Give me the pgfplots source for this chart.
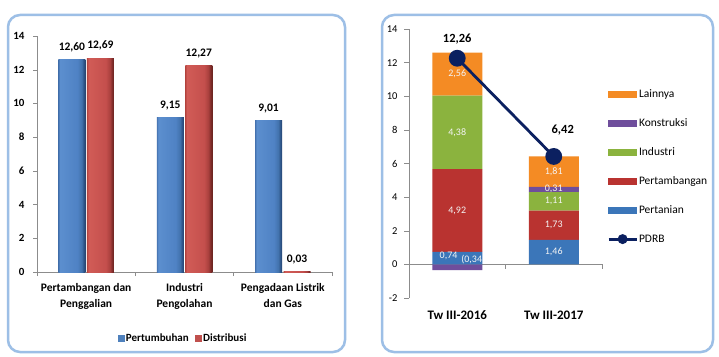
\documentclass[border=0pt]{standalone}
\usepackage{pgfplots}
\pgfplotsset{compat=1.18}
\usepackage{fontspec}
\setmainfont{Carlito}

\definecolor{frameblue}{HTML}{9DBFE6}
\definecolor{axisgray}{HTML}{8C8C8C}
\definecolor{cBlue}{HTML}{3B76B9}
\definecolor{cRed}{HTML}{B93330}
\definecolor{cGreen}{HTML}{8BB33E}
\definecolor{cPurple}{HTML}{6F4E9C}
\definecolor{cOrange}{HTML}{F48B24}
\definecolor{cNavy}{HTML}{0B2060}
\definecolor{segtext}{HTML}{F4F4F4}
\definecolor{legBlue}{HTML}{4F81BD}
\definecolor{legRed}{HTML}{C0504D}

\tikzset{seglabel/.style={font=\fontsize{10}{11}\selectfont, text=segtext}}

% bevelled look for the left-hand bars
\pgfdeclarehorizontalshading{bluebar}{100bp}{%
  rgb(0bp)=(0.27,0.45,0.69); rgb(25bp)=(0.27,0.45,0.69);
  rgb(28bp)=(0.36,0.56,0.81); rgb(60bp)=(0.31,0.51,0.77);
  rgb(68bp)=(0.26,0.45,0.68); rgb(72bp)=(0.18,0.33,0.53);
  rgb(75bp)=(0.15,0.27,0.44); rgb(100bp)=(0.15,0.27,0.44)}
\pgfdeclarehorizontalshading{redbar}{100bp}{%
  rgb(0bp)=(0.71,0.27,0.25); rgb(25bp)=(0.71,0.27,0.25);
  rgb(28bp)=(0.82,0.36,0.34); rgb(60bp)=(0.77,0.31,0.30);
  rgb(68bp)=(0.66,0.25,0.24); rgb(72bp)=(0.49,0.17,0.16);
  rgb(75bp)=(0.42,0.14,0.13); rgb(100bp)=(0.42,0.14,0.13)}

\pgfplotsset{
  growbar/.style={draw=none, shading=bluebar, bar shift=-14.25pt, forget plot},
  sharebar/.style={draw=none, shading=redbar, bar shift=14.25pt, forget plot},
}

\begin{document}
\begin{tikzpicture}[x=1pt,y=1pt]
\useasboundingbox (0,0) rectangle (719,356);
\fill[white] (0,0) rectangle (719,356);

% panel frames
\draw[frameblue, line width=2.5pt, rounded corners=12pt] (8,4) rectangle (345,341);
\draw[frameblue, line width=2.5pt, rounded corners=12pt] (382,4) rectangle (713,341);

% ---------------- left: growth and share by sector ----------------
\begin{axis}[
  at={(37pt,84pt)}, anchor=south west,
  scale only axis, width=295pt, height=236pt,
  ybar, bar width=27pt,
  xmin=-0.5, xmax=2.5, ymin=0, ymax=14,
  ytick={0,2,...,14},
  xtick={0,1,2},
  xticklabels={{Pertambangan dan\\Penggalian},{Industri\\Pengolahan},{Pengadaan Listrik\\dan Gas}},
  minor xtick={-0.5,0.5,1.5,2.5},
  major x tick style={draw=none},
  axis lines*=left,
  axis line style={axisgray},
  every tick/.style={axisgray},
  tick align=outside, major tick length=4pt, minor tick length=4pt,
  /pgf/number format/assume math mode=true,
  /pgf/number format/.cd, fixed, fixed zerofill, precision=2, use comma,
  /pgfplots/.cd,
  yticklabel style={font=\bfseries\fontsize{11}{12}\selectfont, xshift=-5pt,
    /pgf/number format/precision=0, /pgf/number format/fixed zerofill=false},
  xticklabel style={font=\bfseries\fontsize{11.5}{15.5}\selectfont, align=center, yshift=-4pt},
  nodes near coords,
  nodes near coords style={font=\bfseries\fontsize{11.5}{12}\selectfont, yshift=4pt},
  legend style={at={(0.495,-0.28)}, anchor=center, draw=none, fill=none,
    font=\bfseries\fontsize{11}{12}\selectfont, legend columns=2,
    /tikz/every even column/.append style={column sep=4pt}},
]
\addlegendimage{legend image code/.code={\fill[legBlue] (0pt,-3pt) rectangle (6pt,3pt);}}
\addlegendentry{Pertumbuhan}
\addlegendimage{legend image code/.code={\fill[legRed] (0pt,-3pt) rectangle (6pt,3pt);}}
\addlegendentry{Distribusi}
% Pertumbuhan (growth)
\addplot[growbar] coordinates {(0,12.60)};
\addplot[growbar] coordinates {(1,9.15)};
\addplot[growbar] coordinates {(2,9.01)};
% Distribusi (share)
\addplot[sharebar] coordinates {(0,12.69)};
\addplot[sharebar] coordinates {(1,12.27)};
\addplot[sharebar] coordinates {(2,0.03)};
\end{axis}

% ---------------- right: contribution to growth ----------------
\begin{axis}[
  at={(409pt,58pt)}, anchor=south west,
  scale only axis, width=193pt, height=269pt,
  ybar stacked, bar width=50pt,
  xmin=-0.5, xmax=1.5, ymin=-2, ymax=14,
  ytick={-2,0,...,14},
  xtick={0,1}, xticklabels={Tw III-2016, Tw III-2017},
  major x tick style={draw=none},
  axis x line*=bottom, axis y line*=left,
  x axis line style={draw=none},
  y axis line style={axisgray},
  every tick/.style={axisgray},
  tick align=outside, major tick length=5pt,
  extra y ticks={0}, extra y tick labels={},
  extra y tick style={grid=major, major grid style={axisgray, thin}},
  /pgf/number format/assume math mode=true,
  yticklabel style={font=\fontsize{10.5}{12}\selectfont, xshift=-3pt},
  xticklabel style={font=\bfseries\fontsize{13}{14}\selectfont, yshift=-4pt},
]
\addplot[fill=cBlue, draw=none] coordinates {(0,0.74) (1,1.46)};
\addplot[fill=cRed, draw=none] coordinates {(0,4.92) (1,1.73)};
\addplot[fill=cGreen, draw=none] coordinates {(0,4.38) (1,1.11)};
\addplot[fill=cPurple, draw=none] coordinates {(0,-0.34) (1,0.31)};
\addplot[fill=cOrange, draw=none] coordinates {(0,2.56) (1,1.81)};
\end{axis}

% segment values, PDRB growth line and legend over the stacked bars
\begin{axis}[
  at={(409pt,58pt)}, anchor=south west,
  scale only axis, width=193pt, height=269pt,
  xmin=-0.5, xmax=1.5, ymin=-2, ymax=14,
  hide axis, clip=false,
  legend style={at={(1.026,0.781)}, anchor=north west, draw=none, fill=none,
    inner sep=0pt, font=\fontsize{11.5}{12}\selectfont, row sep=17pt,
    nodes={inner sep=1pt, text height=8pt, text depth=2pt},
    /tikz/every even column/.append style={column sep=1pt}},
  legend cell align=left,
]
\draw[axisgray] (axis cs:0.5,0) -- (axis cs:0.5,-0.25);
\draw[axisgray] (axis cs:1.5,0) -- (axis cs:1.5,-0.25);
\node[seglabel] at (axis cs:-0.09,0.50) {0,74};
\node[seglabel] at (axis cs:0.15,0.30) {(0,34};
\node[seglabel] at (axis cs:0,3.20) {4,92};
\node[seglabel] at (axis cs:0,7.85) {4,38};
\node[seglabel] at (axis cs:0,11.32) {2,56};
\node[seglabel] at (axis cs:1,0.73) {1,46};
\node[seglabel] at (axis cs:1,2.325) {1,73};
\node[seglabel] at (axis cs:1,3.745) {1,11};
\node[seglabel] at (axis cs:1,4.48) {0,31};
\node[seglabel] at (axis cs:1,5.515) {1,81};
\addlegendimage{legend image code/.code={\fill[cOrange] (0pt,-3pt) rectangle (28pt,3pt);}}
\addlegendentry{Lainnya}
\addlegendimage{legend image code/.code={\fill[cPurple] (0pt,-3pt) rectangle (28pt,3pt);}}
\addlegendentry{Konstruksi}
\addlegendimage{legend image code/.code={\fill[cGreen] (0pt,-3pt) rectangle (28pt,3pt);}}
\addlegendentry{Industri}
\addlegendimage{legend image code/.code={\fill[cRed] (0pt,-3pt) rectangle (28pt,3pt);}}
\addlegendentry{Pertambangan}
\addlegendimage{legend image code/.code={\fill[cBlue] (0pt,-3pt) rectangle (28pt,3pt);}}
\addlegendentry{Pertanian}
\addplot[cNavy, line width=2.8pt, mark=*, mark size=7pt,
  legend image code/.code={\draw[cNavy, line width=2.8pt] (0pt,0pt) -- (28pt,0pt);
    \fill[cNavy] (14pt,0pt) circle (3.5pt);}]
  coordinates {(0,12.26) (1,6.42)};
\addlegendentry{PDRB}
\node[font=\bfseries\fontsize{12.5}{13}\selectfont] at (axis cs:0,12.26) [yshift=19pt] {12,26};
\node[font=\bfseries\fontsize{12.5}{13}\selectfont] at (axis cs:1,6.42) [xshift=9pt, yshift=26pt] {6,42};
\end{axis}
\end{tikzpicture}
\end{document}
